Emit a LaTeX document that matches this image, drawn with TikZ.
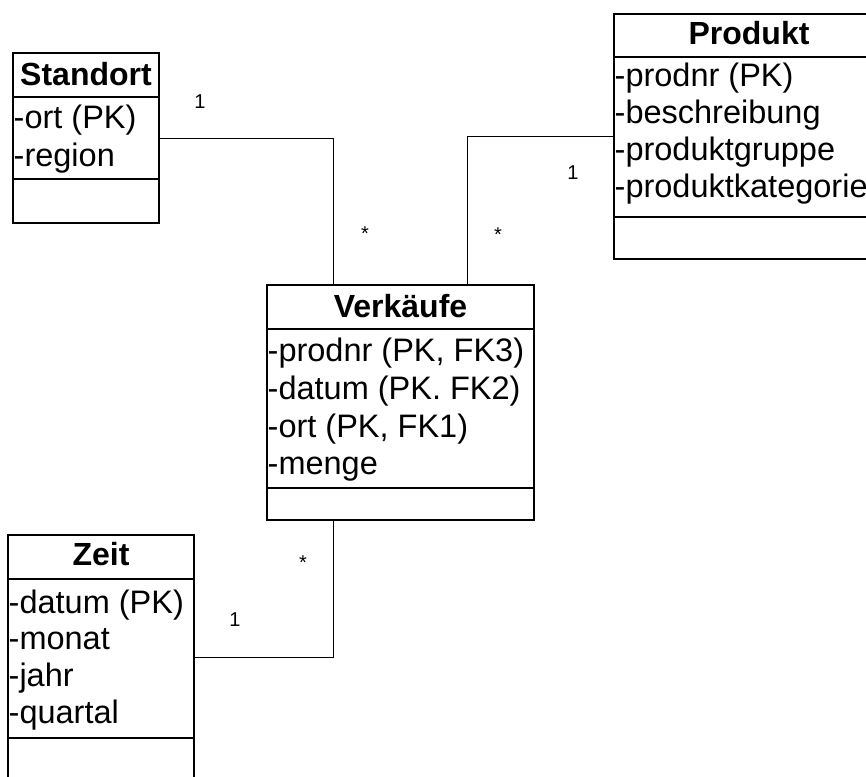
\documentclass[tikz,border=0pt]{standalone}
\usepackage{fontspec}
\setmainfont{Liberation Sans}
\usetikzlibrary{calc}
\tikzset{
  box/.style={draw, line width=2pt, anchor=north west, inner sep=0pt, outer sep=0pt},
  sep/.style={line width=2pt},
  conn/.style={line width=1pt},
  attr/.style={anchor=base west, inner sep=0pt, font=\fontsize{32.5}{37}\selectfont},
  ttl/.style={anchor=base, inner sep=0pt, font=\fontsize{32}{37}\selectfont\bfseries},
  mult/.style={inner sep=0pt, font=\fontsize{20}{22}\selectfont},
}
\begin{document}
\begin{tikzpicture}[x=1pt,y=1pt]
\clip (0,0) rectangle (866,-776);
\fill[white] (0,0) rectangle (866,-776);

% Standort
\node[box, minimum width=146pt, minimum height=170pt] (standort) at (13,-53) {};
\draw[sep] (13,-97) -- (159,-97);
\draw[sep] (13,-179) -- (159,-179);
\node[ttl] (standortT) at (86,-85) {Standort};
\node[attr] (s1) at (13.5,-128) {-ort (PK)};
\node[attr] (s2) at (13.5,-166) {-region};

% Produkt
\node[box, minimum width=270pt, minimum height=245pt] (produkt) at (614,-14) {};
\draw[sep] (614,-57) -- (884,-57);
\draw[sep] (614,-217) -- (884,-217);
\node[ttl] (produktT) at (749,-45) {Produkt};
\node[attr] (p1) at (614.5,-86) {-prodnr (PK)};
\node[attr] (p2) at (614.5,-123) {-beschreibung};
\node[attr] (p3) at (614.5,-160) {-produktgruppe};
\node[attr] (p4) at (614.5,-197) {-produktkategorie};

% Verkaeufe
\node[box, minimum width=267pt, minimum height=235pt] (verk) at (267,-285) {};
\draw[sep] (267,-329) -- (534,-329);
\draw[sep] (267,-488) -- (534,-488);
\node[ttl] (verkT) at (400.5,-317) {Verkäufe};
\node[attr] (v1) at (267.5,-361) {-prodnr (PK, FK3)};
\node[attr] (v2) at (267.5,-399) {-datum (PK. FK2)};
\node[attr] (v3) at (267.5,-437) {-ort (PK, FK1)};
\node[attr] (v4) at (267.5,-474) {-menge};

% Zeit
\node[box, minimum width=186pt, minimum height=244pt] (zeit) at (8,-535) {};
\draw[sep] (8,-579) -- (194,-579);
\draw[sep] (8,-738) -- (194,-738);
\node[ttl] (zeitT) at (101,-565) {Zeit};
\node[attr] (z1) at (8.5,-613) {-datum (PK)};
\node[attr] (z2) at (8.5,-649) {-monat};
\node[attr] (z3) at (8.5,-686) {-jahr};
\node[attr] (z4) at (8.5,-723) {-quartal};

% connector end points on Verkaeufe
\coordinate (vtl) at ($(verk.north west)!0.25!(verk.north east)$);
\coordinate (vtr) at ($(verk.north west)!0.75!(verk.north east)$);
\coordinate (vbl) at ($(verk.south west)!0.25!(verk.south east)$);

\draw[conn] (standort.east) -| (vtl);
\draw[conn] (produkt.west) -| (vtr);
\draw[conn] (zeit.east) -| (vbl);

% multiplicities
\node[mult] (m1) at (200,-102) {1};
\node[mult] (m2) at (365,-234) {*};
\node[mult] (m3) at (498,-235) {*};
\node[mult] (m4) at (573,-173) {1};
\node[mult] (m5) at (303,-563) {*};
\node[mult] (m6) at (235,-620) {1};
\end{tikzpicture}
\end{document}
